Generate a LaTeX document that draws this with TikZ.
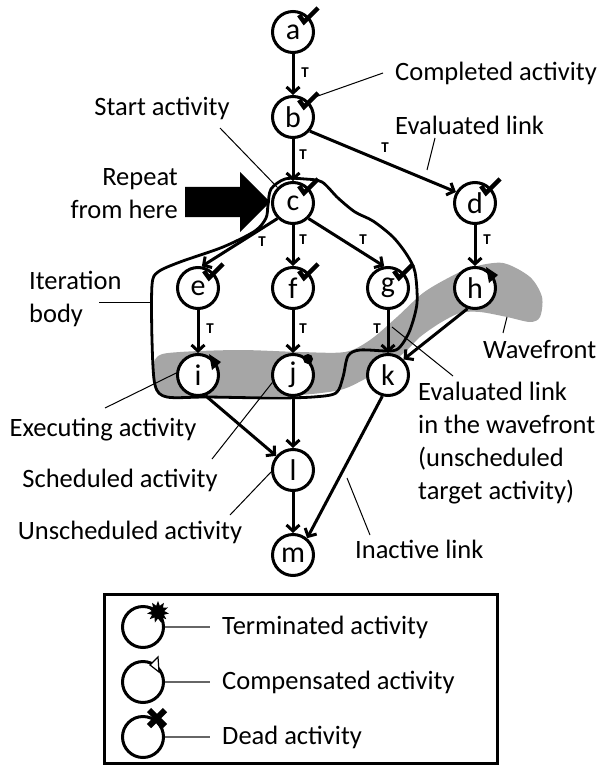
\documentclass[tikz,border=0pt]{standalone}
\usepackage{fontspec}
\setmainfont{Carlito}
\usetikzlibrary{arrows.meta,shapes.geometric}

\newcommand{\donemark}[1]{\draw[checkline] (#1.center) ++(6,-17) -- ++(5,7) -- ++(14,-14);}
\newcommand{\runmark}[1]{\fill (#1.center) ++(11,-21) -- ++(12,8) -- ++(-9,8) -- cycle;}

\begin{document}
\begin{tikzpicture}[x=1pt,y=-1pt]
	\tikzstyle{activity}=[draw, circle, line width=3pt, fill=white, minimum size=41pt, inner sep=0pt, font=\fontsize{30}{32}\selectfont]
	\tikzstyle{remark}=[inner sep=0pt, font=\fontsize{26.5}{33}\selectfont]
	\tikzstyle{linktag}=[inner sep=0pt, font=\fontsize{15}{15}\selectfont\bfseries]
	\tikzstyle{checkline}=[line width=4.5pt]
	\tikzstyle{leader}=[line width=1pt]
	\tikzstyle{keyline}=[line width=1.4pt, black!60]
	\tikzset{flow/.style = {line width=3pt, -{Straight Barb[length=6pt,width=13pt]}}}

	\useasboundingbox (0,0) rectangle (603,767);

	% wavefront
	\fill[black!35] plot[smooth cycle] coordinates {(152,372) (158,356) (180,352) (240,350) (300,352) (345,352) (370,340) (397,317) (423,293) (450,277) (473,267) (503,263) (530,277) (542,297) (540,317) (530,322) (507,317) (480,312) (460,313) (440,323) (420,337) (405,352) (385,367) (363,380) (340,390) (300,395) (240,397) (180,398) (158,392)};

	% iteration body
	\draw[line width=2.8pt] plot[smooth cycle] coordinates {(268,205) (271,189) (285,179) (305,179) (322,182) (338,198) (355,212) (373,221) (393,237) (407,255) (415,272) (417,303) (410,330) (400,347) (390,351) (360,350) (348,356) (343,377) (336,393) (313,397) (273,398) (207,397) (167,397) (155,385) (152,340) (152,285) (158,272) (180,262) (223,247) (255,231) (266,218)};

	% activities
	\node[activity](a) at (293,32)  {a};
	\node[activity](b) at (293,117) {b};
	\node[activity](c) at (293,203) {c};
	\node[activity](d) at (475,203) {d};
	\node[activity](e) at (198,288) {e};
	\node[activity](f) at (293,288) {f};
	\node[activity](g) at (388,288) {g};
	\node[activity](h) at (475,288) {h};
	\node[activity](i) at (198,375) {i};
	\node[activity](j) at (293,375) {j};
	\node[activity](k) at (388,375) {k};
	\node[activity](l) at (293,470) {l};
	\node[activity](m) at (293,555) {m};

	% links
	\draw[flow](a) to (b);
	\draw[flow](b) to (c);
	\draw[flow](b.320) to (d.150);
	\draw[flow](c.225) to (e.80);
	\draw[flow](c) to (f);
	\draw[flow](c.315) to (g.100);
	\draw[flow](d) to (h);
	\draw[flow](e) to (i);
	\draw[flow](f) to (j);
	\draw[flow](g) to (k);
	\draw[flow](h.250) to (k.45);
	\draw[flow](i.290) to (l.140);
	\draw[flow](j) to (l);
	\draw[flow](k.255) to (m.50);
	\draw[flow](l) to (m);

	% link values
	\node[linktag](tab) at (305,73)  {T};
	\node[linktag](tbc) at (303,155) {T};
	\node[linktag](tbd) at (385,148) {T};
	\node[linktag](tce) at (262,242) {T};
	\node[linktag](tcf) at (303,240) {T};
	\node[linktag](tcg) at (363,240) {T};
	\node[linktag](tdh) at (487,240) {T};
	\node[linktag](tei) at (210,329) {T};
	\node[linktag](tfj) at (303,329) {T};
	\node[linktag](tgk) at (377,329) {T};

	% states
	\donemark{a}
	\donemark{b}
	\donemark{c}
	\donemark{d}
	\donemark{e}
	\donemark{f}
	\donemark{g}
	\runmark{h}
	\runmark{i}
	\fill (j.center) ++(15,-16) circle (5);

	% repeat arrow
	\fill (185,187) -- (240,187) -- (240,172) -- (270,202) -- (240,232) -- (240,217) -- (185,217) -- cycle;

	% annotations
	\node[remark, anchor=west](completed) at (395,73) {Completed activity};
	\node[remark, anchor=west](evallink) at (395,125) {Evaluated link};
	\node[remark](start) at (162,108) {Start activity};
	\node[remark, anchor=east, align=right](repeat) at (178,194) {Repeat\\from here};
	\node[remark, anchor=west, align=left](iteration) at (29,299) {Iteration\\body};
	\node[remark, anchor=west](wavefront) at (483,350) {Wavefront};
	\node[remark](executing) at (103,430) {Executing activity};
	\node[remark](scheduled) at (120,480) {Scheduled activity};
	\node[remark](unscheduled) at (130,532) {Unscheduled activity};
	\node[remark, anchor=west, align=left](evalwave) at (418,443) {Evaluated link\\in the wavefront\\(unscheduled\\target activity)};
	\node[remark, anchor=west](inactive) at (355,549) {Inactive link};

	\coordinate (ckb) at (315,97);
	\coordinate (onbd) at (427,170);
	\coordinate (onbody) at (152,302);
	\coordinate (onwave) at (507,317);
	\coordinate (ongk) at (392,327);
	\coordinate (onkm) at (347,478);

	\draw[leader]([xshift=-12pt]completed.west) to (ckb);
	\draw[leader]([shift={(40,13)}]evallink.west) to (onbd);
	\draw[leader]([shift={(58,20)}]start.center) to (c.135);
	\draw[leader]([shift={(70,3)}]iteration.west) to (onbody);
	\draw[leader]([shift={(20,-17)}]wavefront.west) to (onwave);
	\draw[leader]([shift={(2,-22)}]executing.center) to (i.175);
	\draw[leader]([shift={(92,-21)}]scheduled.center) to (j.200);
	\draw[leader]([shift={(100,-17)}]unscheduled.center) to (l.185);
	\draw[leader]([shift={(35,-67)}]evalwave.west) to (ongk);
	\draw[leader]([shift={(15,-14)}]inactive.west) to (onkm);

	% legend
	\draw[line width=3pt] (104,594) rectangle (497,763);
	\node[activity](leg1) at (143,627) {};
	\node[activity](leg2) at (143,682) {};
	\node[activity](leg3) at (143,737) {};
	\node[star, star points=11, star point ratio=1.7, fill=black, minimum size=22pt, inner sep=0pt](burst) at (158,612) {};
	\draw[line width=1.2pt, fill=white] (leg2.center) ++(7,-17) -- ++(8,-8) -- ++(1,15) -- cycle;
	\draw[line width=6pt] (leg3.center) ++(6,-27) -- ++(16,16) (leg3.center) ++(6,-11) -- ++(16,-16);
	\node[remark, anchor=west](kterm) at (222,627) {Terminated activity};
	\node[remark, anchor=west](kcomp) at (222,682) {Compensated activity};
	\node[remark, anchor=west](kdead) at (222,737) {Dead activity};
	\draw[keyline](leg1.east) to ([xshift=-12pt]kterm.west);
	\draw[keyline](leg2.east) to ([xshift=-12pt]kcomp.west);
	\draw[keyline](leg3.east) to ([xshift=-12pt]kdead.west);
\end{tikzpicture}
\end{document}
